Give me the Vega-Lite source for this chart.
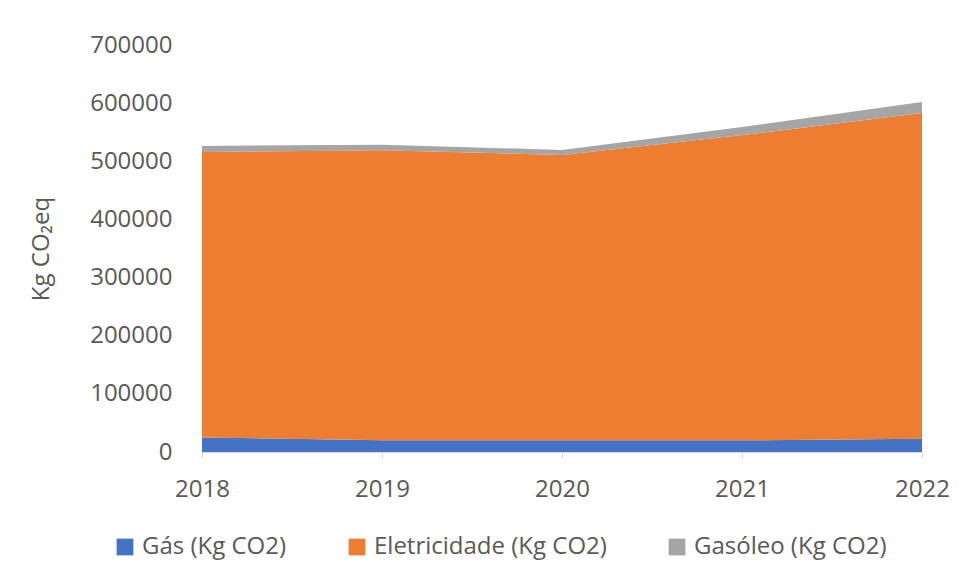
{
  "$schema": "https://vega.github.io/schema/vega-lite/v6.json",
  "width": 720,
  "height": 407,
  "autosize": "none",
  "padding": {"left": 202, "top": 45, "right": 50, "bottom": 130},
  "background": "white",
  "config": {
    "view": {"stroke": null},
    "font": "Open Sans",
    "axis": {"labelFont": "Open Sans", "titleFont": "Open Sans", "labelColor": "#595959", "titleColor": "#595959", "grid": false},
    "legend": {"labelFont": "Open Sans"}
  },
  "data": {
    "values": [
      {"ano": "2018", "serie": "Gás (Kg CO2)", "ordem": 1, "valor": 25000},
      {"ano": "2019", "serie": "Gás (Kg CO2)", "ordem": 1, "valor": 20000},
      {"ano": "2020", "serie": "Gás (Kg CO2)", "ordem": 1, "valor": 20000},
      {"ano": "2021", "serie": "Gás (Kg CO2)", "ordem": 1, "valor": 20000},
      {"ano": "2022", "serie": "Gás (Kg CO2)", "ordem": 1, "valor": 23000},
      {"ano": "2018", "serie": "Eletricidade (Kg CO2)", "ordem": 2, "valor": 491000},
      {"ano": "2019", "serie": "Eletricidade (Kg CO2)", "ordem": 2, "valor": 499000},
      {"ano": "2020", "serie": "Eletricidade (Kg CO2)", "ordem": 2, "valor": 491000},
      {"ano": "2021", "serie": "Eletricidade (Kg CO2)", "ordem": 2, "valor": 525000},
      {"ano": "2022", "serie": "Eletricidade (Kg CO2)", "ordem": 2, "valor": 560000},
      {"ano": "2018", "serie": "Gasóleo (Kg CO2)", "ordem": 3, "valor": 10300},
      {"ano": "2019", "serie": "Gasóleo (Kg CO2)", "ordem": 3, "valor": 9500},
      {"ano": "2020", "serie": "Gasóleo (Kg CO2)", "ordem": 3, "valor": 8600},
      {"ano": "2021", "serie": "Gasóleo (Kg CO2)", "ordem": 3, "valor": 14000},
      {"ano": "2022", "serie": "Gasóleo (Kg CO2)", "ordem": 3, "valor": 19000}
    ]
  },
  "mark": {"type": "area", "opacity": 1},
  "encoding": {
    "x": {
      "field": "ano", "type": "ordinal",
      "scale": {"type": "point", "padding": 0},
      "axis": {"title": null, "labelAngle": 0, "labelFontSize": 24, "labelPadding": 19, "domainColor": "#d9d9d9", "tickColor": "#d9d9d9", "tickSize": 6, "labelColor": "#595959"}
    },
    "y": {
      "field": "valor", "type": "quantitative", "stack": "zero",
      "scale": {"domain": [0, 700000], "nice": false},
      "axis": {"title": "Kg CO₂eq", "titleFontSize": 24, "titleFontWeight": "normal", "titlePadding": 36, "values": [0, 100000, 200000, 300000, 400000, 500000, 600000, 700000], "format": "d", "labelFontSize": 24, "labelPadding": 30, "domain": false, "ticks": false}
    },
    "color": {
      "field": "serie", "type": "nominal",
      "scale": {"domain": ["Gás (Kg CO2)", "Eletricidade (Kg CO2)", "Gasóleo (Kg CO2)"], "range": ["#4472C4", "#ED7D31", "#A5A5A5"]},
      "legend": {"title": null, "orient": "none", "legendX": -89, "legendY": 490, "direction": "horizontal", "symbolType": "square", "symbolSize": 280, "symbolStrokeWidth": 0, "labelFontSize": 24, "labelLimit": 0, "labelOffset": 5, "labelColor": "#595959", "columnPadding": 58}
    },
    "order": {"field": "ordem", "type": "quantitative"}
  }
}
